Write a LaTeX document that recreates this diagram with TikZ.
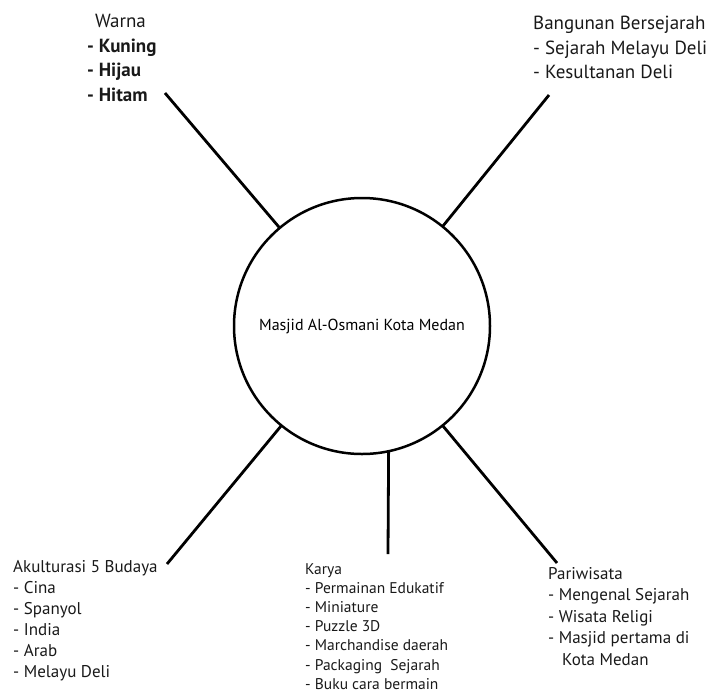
\documentclass[tikz,border=0pt]{standalone}
\usepackage{fontspec}
\setmainfont{PT Sans}
\usetikzlibrary{positioning}
\tikzstyle{pusat}=[
  circle,
  draw=black,
  line width=2.5pt,
  minimum size=256pt,
  inner sep=0pt,
  outer sep=0pt,
  font={\fontsize{16}{19}\selectfont},
]
\tikzstyle{cabang}=[
  anchor=north west,
  inner sep=0pt,
  align=left,
  text=black!90,
]
\tikzstyle{garis}=[
  draw=black,
  line width=2.8pt,
]
\tikzset{
  x=1pt,
  y=-1pt,
}
\begin{document}
\begin{tikzpicture}
  \useasboundingbox (0,0) rectangle (723,697);
  \node (masjid) [pusat] at (362,326) {Masjid Al-Osmani Kota Medan};
  %%
  \node (warna) [cabang, font={\fontsize{19}{24.5}\selectfont}] at (87,14)
    {\hspace*{8pt}Warna\\\textbf{- Kuning}\\\textbf{- Hijau}\\\textbf{- Hitam}};
  \node (bangunan) [cabang, font={\fontsize{19}{24.5}\selectfont}] at (533,16)
    {Bangunan Bersejarah\\- Sejarah Melayu Deli\\- Kesultanan Deli};
  \node (akulturasi) [cabang, font={\fontsize{17}{21}\selectfont}] at (13,560)
    {Akulturasi 5 Budaya\\- Cina\\- Spanyol\\- India\\- Arab\\- Melayu Deli};
  \node (karya) [cabang, font={\fontsize{15.5}{19.2}\selectfont}] at (305,563)
    {Karya\\- Permainan Edukatif\\- Miniature\\- Puzzle 3D\\- Marchandise daerah\\- Packaging~ Sejarah\\- Buku cara bermain};
  \node (pariwisata) [cabang, font={\fontsize{17}{21.5}\selectfont}] at (548,567)
    {Pariwisata\\- Mengenal Sejarah\\- Wisata Religi\\- Masjid pertama di\\\hspace*{14pt}Kota Medan};
  %%
  \coordinate (A) at (165,93);
  \coordinate (B) at (549,95);
  \coordinate (C) at (167,564);
  \coordinate (D) at (388,554);
  \coordinate (E) at (557,563);
  %%
  \draw [garis] (masjid.130) -- (A);
  \draw [garis] (masjid.51) -- (B);
  \draw [garis] (masjid.231) -- (C);
  \draw [garis] (masjid.-78) -- (D);
  \draw [garis] (masjid.-51) -- (E);
\end{tikzpicture}
\end{document}
